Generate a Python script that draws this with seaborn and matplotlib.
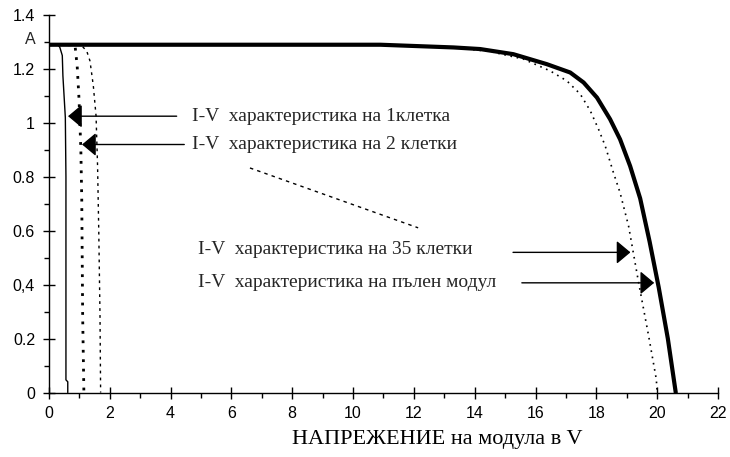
import matplotlib
matplotlib.use("Agg")
import matplotlib.pyplot as plt
import seaborn as sns

# I-V curves: voltage (V) and current (A)
v_module = [0, 10.9, 13.3, 14.18, 15.27, 16.37, 17.14, 17.58, 18.02, 18.45, 18.78,
            19.11, 19.44, 19.75, 20.05, 20.35, 20.61]
i_module = [1.29, 1.29, 1.28, 1.274, 1.255, 1.218, 1.187, 1.15, 1.094, 1.014, 0.939,
            0.84, 0.72, 0.56, 0.39, 0.2, 0.0]

v_35 = [0, 10.9, 13.3, 14.5, 15.6, 16.48, 17.03, 17.47, 17.8, 18.07, 18.29, 18.56,
        18.78, 19.06, 19.39, 19.72, 19.97, 20.0]
i_35 = [1.29, 1.29, 1.28, 1.265, 1.237, 1.193, 1.156, 1.107, 1.045, 0.977, 0.915, 0.816,
        0.741, 0.617, 0.407, 0.209, 0.05, 0.0]

v_1 = [0, 0.30, 0.36, 0.44, 0.46, 0.54, 0.56, 0.56, 0.62, 0.62]
i_1 = [1.29, 1.29, 1.28, 1.25, 1.175, 1.02, 0.8, 0.047, 0.04, 0.0]

v_2 = [0, 0.75, 0.86, 0.93, 0.99, 1.05, 1.08, 1.11, 1.15]
i_2 = [1.29, 1.29, 1.286, 1.21, 1.088, 0.902, 0.716, 0.283, 0.0]

v_3 = [0, 1.05, 1.18, 1.24, 1.35, 1.46, 1.55, 1.6, 1.64, 1.68, 1.7]
i_3 = [1.29, 1.29, 1.274, 1.268, 1.23, 1.138, 1.026, 0.84, 0.593, 0.283, 0.0]

# axis ticks
x_ticks = [0, 2, 4, 6, 8, 10, 12, 14, 16, 18, 20, 22]
y_ticks = [0, 0.2, 0.4, 0.6, 0.8, 1.0, 1.2, 1.4]
y_tick_labels = ["0", "0.2", "0,4", "0.6", "0.8", "1", "1.2", "1.4"]

# annotations: text, text position, arrow start and tip
labels = ["I-V  характеристика на 1клетка",
          "I-V  характеристика на 2 клетки",
          "I-V  характеристика на 35 клетки",
          "I-V  характеристика на пълен модул"]
label_x = [4.7, 4.7, 4.9, 4.9]
label_y = [1.025, 0.921, 0.53, 0.408]
arrow_from_x = [4.2, 4.45, 15.26, 15.55]
arrow_to_x = [0.63, 1.09, 19.12, 19.9]
arrow_y = [1.025, 0.92, 0.52, 0.407]

dash_x = [6.61, 12.14]
dash_y = [0.833, 0.611]

sns.set_theme(style="white")
plt.rcParams["font.family"] = ["Liberation Sans", "DejaVu Sans"]

fig = plt.figure(figsize=(7.3, 4.57), dpi=100)
ax = fig.add_axes([0.067, 0.141, 0.9836 - 0.067, 0.967 - 0.141])

sns.lineplot(x=v_3, y=i_3, sort=False, estimator=None, ax=ax, color="black",
             lw=1.0, linestyle=(0, (2, 3)))
sns.lineplot(x=v_2, y=i_2, sort=False, estimator=None, ax=ax, color="black",
             lw=2.0, linestyle=(0, (1, 2.4)))
sns.lineplot(x=v_1, y=i_1, sort=False, estimator=None, ax=ax, color="black", lw=1.0)
sns.lineplot(x=v_35, y=i_35, sort=False, estimator=None, ax=ax, color="black",
             lw=1.2, linestyle=(0, (1, 2.8)))
sns.lineplot(x=v_module, y=i_module, sort=False, estimator=None, ax=ax, color="black", lw=3.0)

# dashed connector
ax.plot(dash_x, dash_y, color="black", lw=1.0, linestyle=(0, (2.5, 3)))

for txt, tx, ty, ax0, ax1, ay in zip(labels, label_x, label_y, arrow_from_x, arrow_to_x, arrow_y):
    ax.text(tx, ty, txt, fontsize=14, family="Liberation Serif", va="center", ha="left")
    ax.annotate("", xy=(ax1, ay), xytext=(ax0, ay),
                arrowprops=dict(arrowstyle="-|>,head_length=0.86,head_width=0.72",
                                color="black", lw=1.0, mutation_scale=10,
                                shrinkA=0, shrinkB=0))

ax.set_xlim(0, 22)
ax.set_ylim(0, 1.4)
ax.set_xticks(x_ticks)
ax.set_xticklabels([str(t) for t in x_ticks])
ax.set_yticks(y_ticks)
ax.set_yticklabels(y_tick_labels)
ax.set_xticks([t + 1 for t in x_ticks[:-1]], minor=True)
ax.set_yticks([t + 0.1 for t in y_ticks[:-1]], minor=True)
ax.tick_params(which="major", direction="inout", length=8, width=1, color="black",
               labelsize=11.5, labelcolor="black", pad=6)
ax.tick_params(which="minor", direction="out", length=3.5, width=1, color="black")
ax.tick_params(axis="x", which="both", bottom=True)
ax.tick_params(axis="y", which="both", left=True)

for side in ["top", "right"]:
    ax.spines[side].set_visible(False)
for side in ["left", "bottom"]:
    ax.spines[side].set_color("black")
    ax.spines[side].set_linewidth(1.0)

ax.set_xlabel("НАПРЕЖЕНИЕ на модула в V", fontsize=16, family="Liberation Serif", color="black")
ax.xaxis.set_label_coords(0.581, -0.1)
ax.text(-0.6, 1.31, "A", fontsize=11.5, ha="center", va="center", clip_on=False)

fig.savefig("out.png", dpi=100)
